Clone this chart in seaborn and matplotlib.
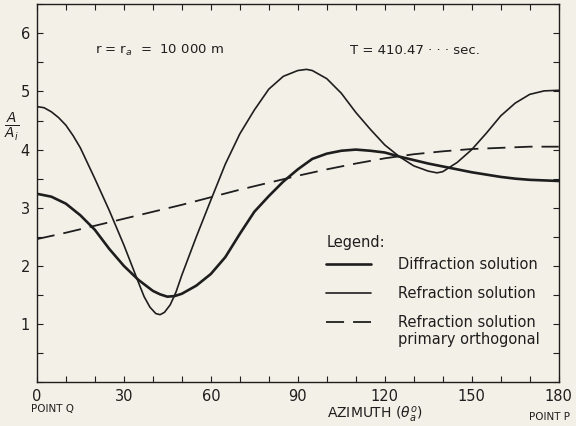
import pandas as pd
import matplotlib
matplotlib.use("Agg")
import matplotlib.pyplot as plt
import seaborn as sns
from matplotlib.ticker import MultipleLocator

# Values (azimuth in degrees, A/Ai)
refr_az = [0, 2.5, 5, 7.5, 10, 12.5, 15, 20, 25, 30, 35, 37, 39, 41, 42.5, 44, 46, 48, 50,
           55, 60, 65, 70, 75, 80, 85, 90, 93, 95, 100, 105, 110, 115, 120, 125, 130, 135,
           138, 140, 145, 150, 155, 160, 165, 170, 175, 180]
refr_amp = [4.74, 4.72, 4.65, 4.55, 4.42, 4.24, 4.03, 3.50, 2.95, 2.36, 1.72, 1.47, 1.29,
            1.18, 1.16, 1.20, 1.33, 1.55, 1.84, 2.50, 3.13, 3.75, 4.27, 4.68, 5.04, 5.26,
            5.36, 5.38, 5.36, 5.22, 4.97, 4.64, 4.35, 4.08, 3.88, 3.72, 3.63, 3.60, 3.62,
            3.78, 4.00, 4.28, 4.58, 4.80, 4.95, 5.01, 5.02]

diff_az = [0, 5, 10, 15, 20, 25, 30, 35, 40, 42.5, 45, 47.5, 50, 55, 60, 65, 70, 75, 80,
           85, 90, 95, 100, 105, 110, 115, 120, 125, 130, 135, 140, 145, 150, 155, 160,
           165, 170, 175, 180]
diff_amp = [3.24, 3.19, 3.07, 2.87, 2.62, 2.29, 2.00, 1.76, 1.57, 1.51, 1.47, 1.48, 1.52,
            1.66, 1.86, 2.15, 2.55, 2.93, 3.20, 3.45, 3.66, 3.84, 3.93, 3.98, 4.00, 3.98,
            3.95, 3.88, 3.82, 3.76, 3.71, 3.66, 3.61, 3.57, 3.53, 3.50, 3.48, 3.47, 3.46]

orth_az = list(range(0, 181, 10))
orth_amp = [2.46, 2.57, 2.69, 2.81, 2.93, 3.05, 3.18, 3.31, 3.43, 3.55, 3.66, 3.76, 3.85,
            3.92, 3.97, 4.01, 4.03, 4.05, 4.05]

x_ticks = [0, 30, 60, 90, 120, 150, 180]
y_ticks = [1, 2, 3, 4, 5, 6]

paper = "#f3f0e7"
ink = "#1e1e1e"

sns.set_style("ticks")
plt.rcParams["font.family"] = ["DejaVu Sans"]

fig = plt.figure(figsize=(5.76, 4.26), dpi=100, facecolor=paper)
ax = fig.add_axes([0.064, 0.103, 0.906, 0.887])
ax.set_facecolor(paper)

diff_df = pd.DataFrame({"az": diff_az, "amp": diff_amp})
refr_df = pd.DataFrame({"az": refr_az, "amp": refr_amp})
orth_df = pd.DataFrame({"az": orth_az, "amp": orth_amp})

sns.lineplot(data=diff_df, x="az", y="amp", ax=ax, color=ink, linewidth=1.9,
             label="Diffraction solution")
sns.lineplot(data=refr_df, x="az", y="amp", ax=ax, color=ink, linewidth=1.2,
             label="Refraction solution")
sns.lineplot(data=orth_df, x="az", y="amp", ax=ax, color=ink, linewidth=1.3,
             label="Refraction solution")
ax.lines[-1].set_dashes((10, 5))

ax.set_xlim(0, 180)
ax.set_ylim(0, 6.5)
ax.set_xticks(x_ticks)
ax.set_yticks(y_ticks)
ax.xaxis.set_minor_locator(MultipleLocator(10))
ax.yaxis.set_minor_locator(MultipleLocator(0.5))
ax.tick_params(which="both", direction="in", top=True, right=True, length=4,
               width=0.8, colors=ink, labelsize=10.5, pad=5)
for s in ax.spines.values():
    s.set_color(ink)
    s.set_linewidth(1.0)

ax.set_xlabel(r"AZIMUTH ($\theta_a^o$)", fontsize=10, color=ink, va="center")
ax.xaxis.set_label_coords(0.648, -0.088)
ax.set_ylabel(r"$\frac{A}{A_i}$", fontsize=14, rotation=0, color=ink,
              va="center", ha="center")
ax.yaxis.set_label_coords(-0.048, 0.677)

ax.text(20, 5.7, r"r = r$_a$  =  10 000 m", fontsize=9.5, color=ink, va="center")
ax.text(108, 5.7, "T = 410.47 \u00b7 \u00b7 \u00b7 sec.", fontsize=9.5, color=ink,
        va="center")
ax.text(-0.012, -0.072, "POINT Q", transform=ax.transAxes, fontsize=7.5, color=ink,
        va="center")
ax.text(0.943, -0.093, "POINT P", transform=ax.transAxes, fontsize=7.5, color=ink,
        va="center")

# legend title drawn as plain text so the rows can sit closer to it
ax.text(0.556, 0.369, "Legend:", transform=ax.transAxes, fontsize=10.5, color=ink,
        va="center")
leg = ax.legend(frameon=False, loc="upper left", bbox_to_anchor=(0.529, 0.365),
                fontsize=10.5, handlelength=3.1, handletextpad=1.85, labelspacing=0.96)
for t in leg.get_texts():
    t.set_color(ink)

# second line of the last legend entry, placed right under its first line
fig.canvas.draw()
bb = leg.get_texts()[-1].get_window_extent()
x0, y0 = fig.transFigure.inverted().transform((bb.x0, bb.y0))
fig.text(x0, y0 - 0.005, "primary orthogonal", fontsize=10.5, color=ink, va="top")

fig.savefig("out.png", dpi=100, facecolor=paper)
